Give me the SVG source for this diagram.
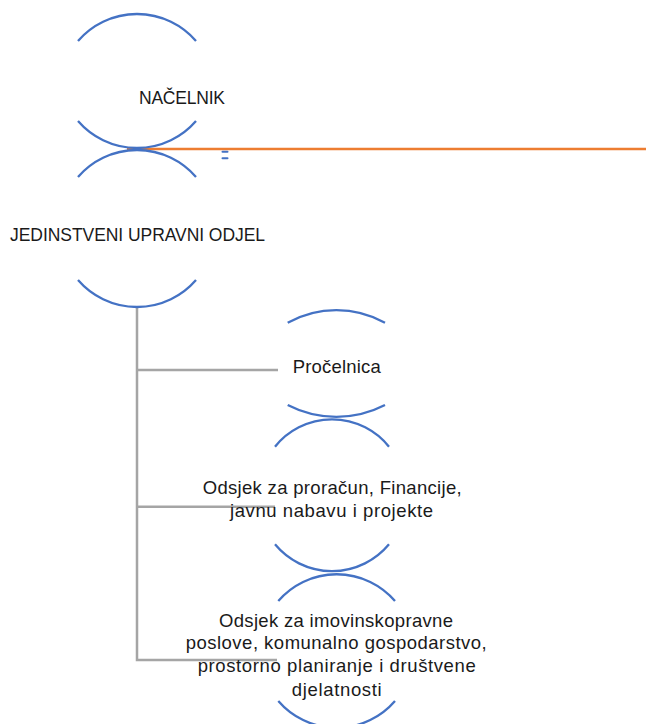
<svg xmlns="http://www.w3.org/2000/svg" width="646" height="724" viewBox="0 0 646 724">
  <style>
    .arc { fill: none; stroke: #4472C4; stroke-width: 2.3; }
    .conn { fill: none; stroke: #A5A5A5; stroke-width: 2.5; }
    .lbl { font-family: "Liberation Sans", Arial, sans-serif; fill: #1a1a1a; }
    .caps { font-size: 17.5px; }
    .low { font-size: 18.5px; }
  </style>
  <rect width="646" height="724" fill="#ffffff"/>

  <g id="connectors">
    <path class="conn" d="M137,307 V660 H277"/>
    <path class="conn" d="M137,370 H278"/>
    <path class="conn" d="M137,506.7 H275"/>
    <line x1="127" y1="149" x2="646" y2="149" stroke="#ED7D31" stroke-width="2.6"/>
    <line x1="222.5" y1="151.7" x2="227.5" y2="151.7" stroke="#4472C4" stroke-width="2" stroke-linecap="round"/>
    <line x1="222.5" y1="158.3" x2="227.5" y2="158.3" stroke="#4472C4" stroke-width="2" stroke-linecap="round"/>
  </g>

  <g id="node-nacelnik">
    <path class="arc" d="M78,41 A78,78 0 0 1 196,41"/>
    <path class="arc" d="M78,121 A78,78 0 0 0 196,121"/>
    <text class="lbl caps" x="139" y="104" textLength="86">NAČELNIK</text>
  </g>

  <g id="node-jedinstveni">
    <path class="arc" d="M78,177 A78,78 0 0 1 196,177"/>
    <path class="arc" d="M78,280 A78,78 0 0 0 196,280"/>
    <text class="lbl caps" x="10" y="240.7" textLength="255">JEDINSTVENI UPRAVNI ODJEL</text>
  </g>

  <g id="node-procelnica">
    <path class="arc" d="M287.7,322.7 A100,100 0 0 1 385,322.7"/>
    <path class="arc" d="M287.7,405 A106,106 0 0 0 385,405"/>
    <text class="lbl low" x="292.7" y="373.3" textLength="88">Pročelnica</text>
  </g>

  <g id="node-odsjek-proracun">
    <path class="arc" d="M275,446.7 A73,73 0 0 1 389,446.7"/>
    <path class="arc" d="M275,544.3 A74,74 0 0 0 389,544.3"/>
    <text class="lbl low" x="202.7" y="494" textLength="259">Odsjek za proračun, Financije,</text>
    <text class="lbl low" x="230" y="516.7" textLength="203">javnu nabavu i projekte</text>
  </g>

  <g id="node-odsjek-imovina">
    <path class="arc" d="M278.3,601 A77,77 0 0 1 395,601"/>
    <path class="arc" d="M278.3,701 A77,77 0 0 0 395,701"/>
    <text class="lbl low" x="219" y="626.7" textLength="234">Odsjek za imovinskopravne</text>
    <text class="lbl low" x="185.7" y="649.3" textLength="301">poslove, komunalno gospodarstvo,</text>
    <text class="lbl low" x="197.7" y="672" textLength="278">prostorno planiranje i društvene</text>
    <text class="lbl low" x="291.7" y="695.7" textLength="90">djelatnosti</text>
  </g>
</svg>
